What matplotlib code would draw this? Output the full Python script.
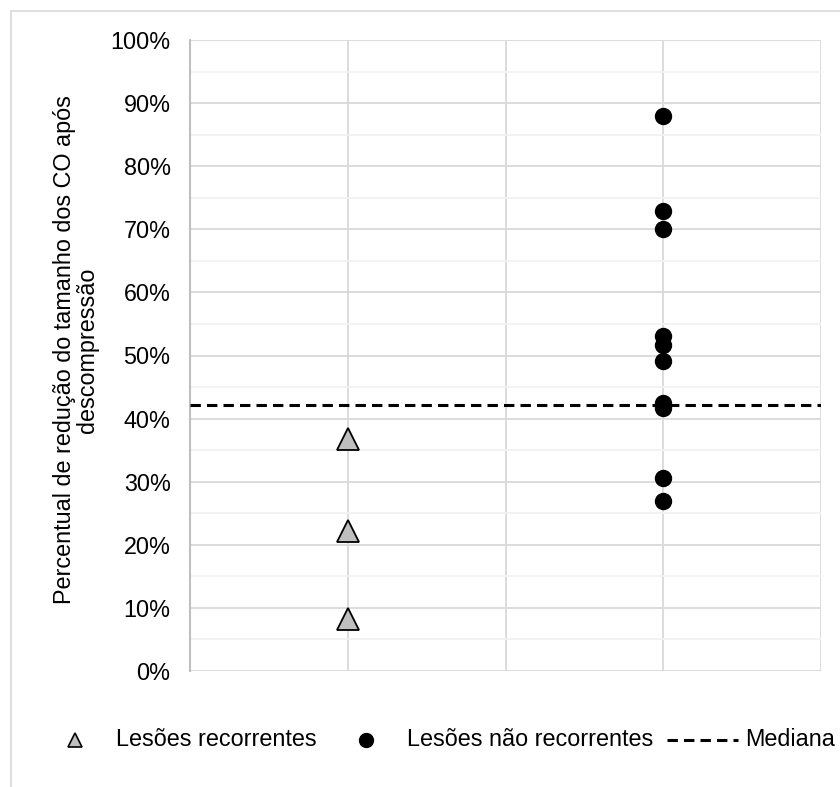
import matplotlib
matplotlib.use("Agg")
import matplotlib.pyplot as plt
from matplotlib.lines import Line2D
from matplotlib.patches import Rectangle
from matplotlib.ticker import MultipleLocator, PercentFormatter

plt.rcParams["font.family"] = ["Liberation Sans", "DejaVu Sans"]

# data (percent reduction)
recorrentes_x = [1, 1, 1]
recorrentes_y = [36.7, 22.2, 8.2]
nao_recorrentes_x = [3] * 10
nao_recorrentes_y = [88.0, 72.9, 70.0, 53.1, 51.7, 49.1, 42.5, 41.7, 30.6, 26.9]
mediana = 42.2

ylabel = "Percentual de redução do tamanho dos CO após\ndescompressão"
legend_labels = ["Lesões recorrentes", "Lesões não recorrentes", "Mediana"]

W, H = 840, 787
fig = plt.figure(figsize=(W / 100, H / 100), dpi=100)

def fx(px):
    return px / W

def fy(py):
    return 1 - py / H

# outer chart frame (only top/left visible in the reference)
fig.add_artist(Rectangle((fx(11), fy(800)), fx(900), fy(11) - fy(800), transform=fig.transFigure,
                         fill=False, edgecolor="#d9d9d9", linewidth=1.2))

ax = fig.add_axes([fx(190), fy(671), fx(821) - fx(190), fy(40) - fy(671)])

ax.set_xlim(0, 4)
ax.set_ylim(0, 100)
ax.yaxis.set_major_locator(MultipleLocator(10))
ax.yaxis.set_minor_locator(MultipleLocator(5))
ax.xaxis.set_major_locator(MultipleLocator(1))
ax.yaxis.set_major_formatter(PercentFormatter(decimals=0))
ax.set_xticklabels([])
ax.tick_params(axis="x", length=0)
ax.tick_params(axis="y", which="both", length=0, labelsize=16.8, pad=14)

ax.grid(True, which="major", axis="both", color="#d9d9d9", linewidth=1.3)
ax.grid(True, which="minor", axis="y", color="#f2f2f2", linewidth=1.3)
ax.set_axisbelow(True)

for side in ["top", "right", "bottom"]:
    ax.spines[side].set_visible(False)
ax.spines["left"].set_color("#bfbfbf")
ax.spines["left"].set_linewidth(1.5)

dash = (3.4, 2.0)
ax.axhline(mediana, color="black", linewidth=2.2, linestyle=(0, dash), zorder=3)

ax.plot(recorrentes_x, recorrentes_y, linestyle="none", marker="^", markersize=15.8,
        markerfacecolor="#bfbfbf", markeredgecolor="black", markeredgewidth=1.3, zorder=4)
ax.plot(nao_recorrentes_x, nao_recorrentes_y, linestyle="none", marker="o", markersize=11.5,
        markerfacecolor="black", markeredgecolor="black", zorder=4)

fig.text(fx(76), fy(350), ylabel, rotation=90, ha="center", va="center",
         multialignment="center", fontsize=16.8, linespacing=1.05)

# legend drawn by hand to match the spacing
ly = fy(740)
fig.add_artist(Line2D([fx(75)], [ly], transform=fig.transFigure, linestyle="none", marker="^",
                      markersize=10, markerfacecolor="#bfbfbf", markeredgecolor="black",
                      markeredgewidth=1.2))
fig.text(fx(116), ly, legend_labels[0], ha="left", va="center", fontsize=16.8)
fig.add_artist(Line2D([fx(366)], [ly], transform=fig.transFigure, linestyle="none", marker="o",
                      markersize=10, markerfacecolor="black", markeredgecolor="black"))
fig.text(fx(407), ly, legend_labels[1], ha="left", va="center", fontsize=16.8)
fig.add_artist(Line2D([fx(667), fx(738)], [ly, ly], transform=fig.transFigure, color="black",
                      linewidth=2.2, linestyle=(0, dash)))
fig.text(fx(745), ly, legend_labels[2], ha="left", va="center", fontsize=16.8)

fig.savefig("out.png", dpi=100)
